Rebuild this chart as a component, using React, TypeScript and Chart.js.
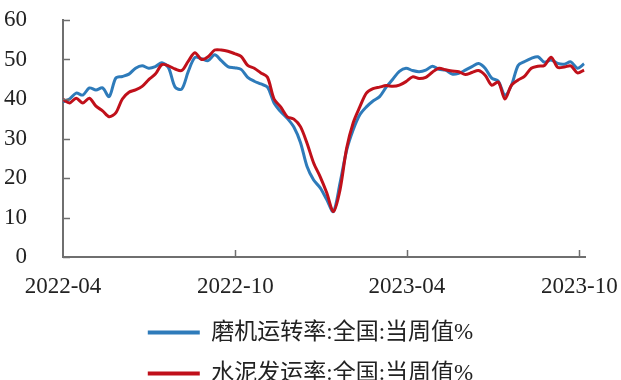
import React, { useEffect, useRef } from 'react';
import { Chart, registerables } from 'chart.js';

Chart.register(...registerables);

const weekDates = [
  '2022-04-01', '2022-04-08', '2022-04-15', '2022-04-22', '2022-04-29',
  '2022-05-06', '2022-05-13', '2022-05-20', '2022-05-27',
  '2022-06-03', '2022-06-10', '2022-06-17', '2022-06-24',
  '2022-07-01', '2022-07-08', '2022-07-15', '2022-07-22', '2022-07-29',
  '2022-08-05', '2022-08-12', '2022-08-19', '2022-08-26',
  '2022-09-02', '2022-09-09', '2022-09-16', '2022-09-23', '2022-09-30',
  '2022-10-07', '2022-10-14', '2022-10-21', '2022-10-28',
  '2022-11-04', '2022-11-11', '2022-11-18', '2022-11-25',
  '2022-12-02', '2022-12-09', '2022-12-16', '2022-12-23', '2022-12-30',
  '2023-01-06', '2023-01-13', '2023-01-20', '2023-01-27',
  '2023-02-03', '2023-02-10', '2023-02-17', '2023-02-24',
  '2023-03-03', '2023-03-10', '2023-03-17', '2023-03-24', '2023-03-31',
  '2023-04-07', '2023-04-14', '2023-04-21', '2023-04-28',
  '2023-05-05', '2023-05-12', '2023-05-19', '2023-05-26',
  '2023-06-02', '2023-06-09', '2023-06-16', '2023-06-23', '2023-06-30',
  '2023-07-07', '2023-07-14', '2023-07-21', '2023-07-28',
  '2023-08-04', '2023-08-11', '2023-08-18', '2023-08-25',
  '2023-09-01', '2023-09-08', '2023-09-15', '2023-09-22', '2023-09-29',
  '2023-10-06',
];

// 磨机运转率:全国:当周值%
const millRate = [
  39.3, 40, 41.5, 41, 42.8, 42.3, 42.8, 40.6, 45.3, 45.7,
  46.3, 47.8, 48.4, 47.8, 48.2, 49.2, 47.9, 43, 42.5, 47,
  50.5, 50.2, 49.7, 51.2, 49.7, 48.2, 47.9, 47.5, 45.5, 44.5,
  43.8, 43, 39, 36.8, 35.1, 32.9, 29, 22.9, 19.5, 17.5,
  14.5, 11.5, 18.7, 27, 32.2, 36, 38, 39.5, 40.6, 43,
  45, 47, 47.8, 47.2, 46.9, 47.3, 48.3, 47.5, 47.3, 46.3,
  46.5, 47.3, 48.2, 49, 47.8, 45.3, 44.5, 41, 43.5, 48.5,
  49.5, 50.3, 50.7, 49.3, 49.9, 49, 48.8, 49.4, 47.8, 48.9,
];

// 水泥发运率:全国:当周值%
const shipRate = [
  39.9, 39, 40.2, 39, 40.2, 38.2, 37, 35.5, 36.5, 40,
  41.7, 42.3, 43.2, 44.9, 46.3, 48.7, 48.4, 47.6, 47.2, 49.6,
  51.7, 50, 50.7, 52.4, 52.4, 52.1, 51.5, 50.8, 48.5, 47.8,
  46.6, 45.5, 40, 38, 35.5, 34.9, 33, 28.8, 23.8, 20.3,
  16.2, 11.5, 17, 27.5, 34, 38, 41.5, 42.6, 43, 43.4,
  43.2, 43.5, 44.4, 45.6, 45.2, 45.5, 46.8, 47.8, 47.4, 47.1,
  46.9, 46.2, 46.7, 47.2, 46, 43.5, 44.3, 40, 43.5, 44.8,
  45.8, 47.8, 48.3, 48.5, 50.6, 48, 48.1, 48.4, 46.6, 47.3,
];

const seriesNames = ['磨机运转率:全国:当周值%', '水泥发运率:全国:当周值%'];
const xTickDates = ['2022-04-01', '2022-10-01', '2023-04-01', '2023-10-01'];
const xTickLabels = ['2022-04', '2022-10', '2023-04', '2023-10'];
const xAxisEnd = '2023-10-07';
const yTicks = [0, 10, 20, 30, 40, 50, 60];

const DAY = 86400000;
const origin = Date.parse(xTickDates[0]);
const toDay = (d: string) => Math.round((Date.parse(d) - origin) / DAY);

const AXIS_COLOR = '#6f6f6f';
const TEXT_COLOR = '#222222';
const FONT_FAMILY = '"Liberation Serif", "Noto Sans CJK SC", serif';

const innerTicks = {
  id: 'innerTicks',
  afterDraw(chart: any) {
    const { ctx } = chart;
    const x = chart.scales.x;
    const y = chart.scales.y;
    ctx.save();
    ctx.strokeStyle = AXIS_COLOR;
    ctx.lineWidth = 1.5;
    ctx.beginPath();
    y.ticks.forEach((t: any) => {
      const py = Math.round(y.getPixelForValue(t.value)) + 0.5;
      ctx.moveTo(x.left, py);
      ctx.lineTo(x.left + 7, py);
    });
    x.ticks.forEach((t: any) => {
      if (t.value <= 0) return;
      const px = Math.round(x.getPixelForValue(t.value)) + 0.5;
      ctx.moveTo(px, y.bottom);
      ctx.lineTo(px, y.bottom - 7);
    });
    ctx.stroke();
    ctx.restore();
  },
};

export default function App() {
  const canvasRef = useRef<HTMLCanvasElement | null>(null);

  useEffect(() => {
    if (!canvasRef.current) return;
    const tickDays = xTickDates.map(toDay);
    const chart = new Chart(canvasRef.current, {
      type: 'line',
      data: {
        datasets: [
          {
            label: seriesNames[0],
            data: weekDates.map((d, i) => ({ x: toDay(d), y: millRate[i] })),
            borderColor: '#2E7BBA',
            backgroundColor: '#2E7BBA',
            borderWidth: 3,
            pointRadius: 0,
            tension: 0.3,
            order: 1,
          },
          {
            label: seriesNames[1],
            data: weekDates.map((d, i) => ({ x: toDay(d), y: shipRate[i] })),
            borderColor: '#C0101A',
            backgroundColor: '#C0101A',
            borderWidth: 3,
            pointRadius: 0,
            tension: 0.3,
            order: 0,
          },
        ],
      },
      options: {
        animation: false,
        responsive: false,
        devicePixelRatio: 1,
        layout: { padding: { top: 20, left: 0, right: 0, bottom: 0 } },
        plugins: {
          tooltip: { enabled: false },
          legend: {
            position: 'bottom',
            labels: {
              usePointStyle: true,
              pointStyle: 'line',
              pointStyleWidth: 52,
              padding: 18,
              color: TEXT_COLOR,
              font: { family: FONT_FAMILY, size: 23 },
              sort: (a: any, b: any) => a.datasetIndex - b.datasetIndex,
              generateLabels: (c: any) =>
                Chart.defaults.plugins.legend.labels
                  .generateLabels(c)
                  .map((l: any) => ({ ...l, lineWidth: 4 })),
            },
          },
        },
        scales: {
          x: {
            type: 'linear',
            min: 0,
            max: toDay(xAxisEnd),
            grid: { display: false },
            border: { display: true, color: AXIS_COLOR, width: 2 },
            afterBuildTicks: (scale: any) => {
              scale.ticks = tickDays.map((v) => ({ value: v }));
            },
            afterFit: (scale: any) => {
              scale.paddingLeft = 0;
              scale.paddingRight = 36;
              scale.height = 46;
            },
            ticks: {
              autoSkip: false,
              maxRotation: 0,
              padding: 8,
              color: TEXT_COLOR,
              font: { family: FONT_FAMILY, size: 23 },
              callback: (v: any) => {
                const idx = tickDays.indexOf(Number(v));
                return idx >= 0 ? xTickLabels[idx] : '';
              },
            },
          },
          y: {
            type: 'linear',
            min: yTicks[0],
            max: yTicks[yTicks.length - 1],
            grid: { display: false },
            border: { display: true, color: AXIS_COLOR, width: 2 },
            afterBuildTicks: (scale: any) => {
              scale.ticks = yTicks.map((v) => ({ value: v }));
            },
            afterFit: (scale: any) => {
              scale.width = 63;
              scale.paddingTop = 0;
              scale.paddingBottom = 0;
            },
            ticks: {
              padding: 28,
              color: TEXT_COLOR,
              font: { family: FONT_FAMILY, size: 23 },
            },
          },
        },
      },
      plugins: [innerTicks],
    });
    return () => chart.destroy();
  }, []);

  return (
    <div style={{ position: 'fixed', left: 0, top: 0, width: 621, height: 395, background: '#fff' }}>
      <canvas ref={canvasRef} width={621} height={395} style={{ width: 621, height: 395, display: 'block' }} />
    </div>
  );
}
